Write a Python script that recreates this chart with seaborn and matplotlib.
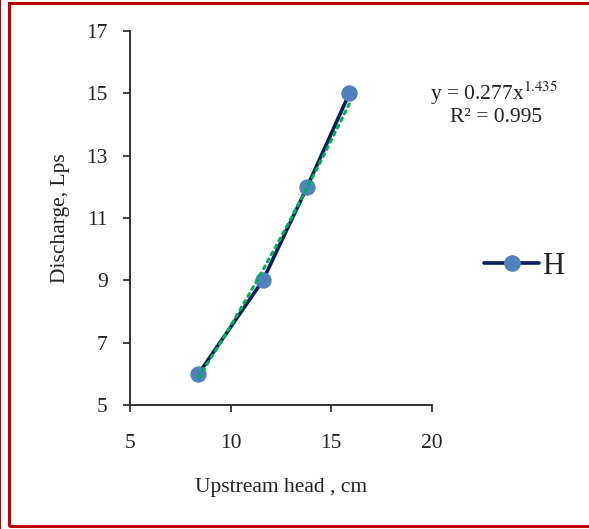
import numpy as np
import pandas as pd
import matplotlib
matplotlib.use("Agg")
import matplotlib.pyplot as plt
import seaborn as sns
from matplotlib.patches import Rectangle
from matplotlib.lines import Line2D

# Measured upstream head (cm) and discharge (Lps)
head_cm = [8.4, 11.6, 13.8, 15.9]
discharge_lps = [6, 9, 12, 15]

# Power-law trendline coefficients
fit_a = 0.277
fit_b = 1.435
fit_r2 = 0.995

x_ticks = [5, 10, 15, 20]
y_ticks = [5, 7, 9, 11, 13, 15, 17]

sns.set_theme(style="ticks")
plt.rcParams["font.family"] = ["Liberation Serif", "DejaVu Serif"]

fig = plt.figure(figsize=(5.89, 5.29), dpi=100)
ax = fig.add_axes([0.2207, 0.2344, 0.5127, 0.7070])

df = pd.DataFrame({"head": head_cm, "q": discharge_lps})

line_color = "#002060"
marker_color = "#4F81BD"
trend_color = "#00B050"
text_color = "#222222"
fs = 15.5

sns.lineplot(data=df, x="head", y="q", ax=ax, color=line_color, linewidth=2.6,
             marker="o", markersize=11, markerfacecolor=marker_color,
             markeredgecolor=marker_color, zorder=2)

# Power trendline over the measured range
xt = np.linspace(min(head_cm), max(head_cm), 200)
yt = fit_a * xt ** fit_b
ax.plot(xt, yt, color=trend_color, linestyle=(0, (1, 1.6)), linewidth=2.2,
        dash_capstyle="round", zorder=3)

ax.set_xlim(5, 20)
ax.set_ylim(5, 17)
ax.set_xticks(x_ticks)
ax.set_yticks(y_ticks)
ax.tick_params(axis="both", labelsize=fs, colors=text_color, length=5,
               width=1.2)
ax.tick_params(axis="y", pad=11)
ax.tick_params(axis="x", pad=16)
for s in ["top", "right"]:
    ax.spines[s].set_visible(False)
for s in ["left", "bottom"]:
    ax.spines[s].set_linewidth(1.3)
    ax.spines[s].set_color(text_color)

ax.set_xlabel("Upstream head , cm", fontsize=fs, color=text_color, labelpad=18)
ax.set_ylabel("Discharge, Lps", fontsize=fs, color=text_color, labelpad=12)

# Trendline equation
fig.text(494 / 589, 1 - 93 / 529, f"y = {fit_a}x$^{{{fit_b}}}$", ha="center",
         va="center", fontsize=fs, color=text_color,
         math_fontfamily="stix")
fig.text(496 / 589, 1 - 117 / 529, f"R² = {fit_r2}", ha="center", va="center",
         fontsize=fs, color=text_color)

# Legend
handle = Line2D([], [], color=line_color, linewidth=2.6, marker="o",
                markersize=11, markerfacecolor=marker_color,
                markeredgecolor=marker_color)
fig.legend([handle], ["H"], loc="center left",
           bbox_to_anchor=(478 / 589, 1 - 266 / 529), frameon=False,
           fontsize=22, handlelength=1.8, handletextpad=0.1,
           labelcolor=text_color, borderaxespad=0, borderpad=0.2)

# Red frame
fig.patches.append(Rectangle((0.0005, 0), 0.002, 1, transform=fig.transFigure,
                             facecolor="#C00000", edgecolor="none"))
fig.patches.append(Rectangle((9 / 589, 3 / 529), 1.2, 1 - 6 / 529,
                             transform=fig.transFigure, fill=False,
                             edgecolor="#C00000", linewidth=2.2))

fig.savefig("out.png", dpi=100)
